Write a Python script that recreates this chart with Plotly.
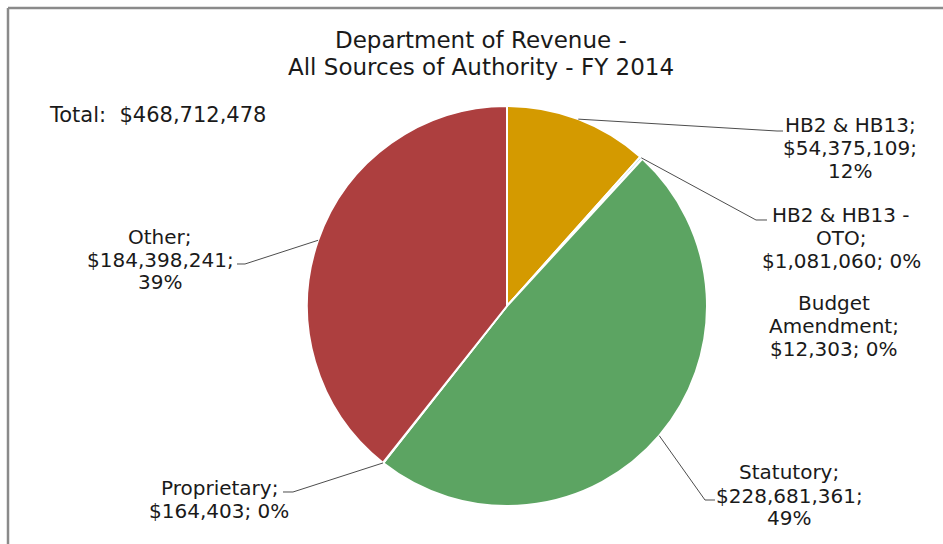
import math
import plotly.graph_objects as go

# Authority sources, in clockwise order from 12 o'clock
sources = ["HB2 & HB13", "HB2 & HB13 - OTO", "Budget Amendment", "Statutory", "Proprietary", "Other"]
amounts = [54375109, 1081060, 12303, 228681361, 164403, 184398241]
slice_colors = ["#D49A00", "#A6D8E6", "#8064A2", "#5CA462", "#4BACC6", "#AD3F3F"]

# reported total of all authority
total_amount = 468712478

# How each data label breaks over lines
name_lines = [["HB2 & HB13"], ["HB2 & HB13 -", "OTO"], ["Budget", "Amendment"],
              ["Statutory"], ["Proprietary"], ["Other"]]
value_pct_same_line = [False, True, True, False, True, False]

title_lines = ["Department of Revenue -", "All Sources of Authority - FY 2014"]

W, H = 943, 544
FONT = "DejaVu Sans, Liberation Sans, Arial, sans-serif"
TEXT = "#1a1a1a"

# pie geometry in pixels
CX, CY, R = 507, 306, 200


def px(x, y):
    return x / W, 1 - y / H


def money(v):
    return "${:,}".format(v)


def label_lines(i):
    pct = "{}%".format(round(amounts[i] / total_amount * 100))
    lines = list(name_lines[i])
    lines[-1] += ";"
    if value_pct_same_line[i]:
        lines.append(money(amounts[i]) + "; " + pct)
    else:
        lines.append(money(amounts[i]) + ";")
        lines.append(pct)
    return lines


fig = go.Figure()

x0, y1 = px(CX - R, CY - R)
x1, y0 = px(CX + R, CY + R)
fig.add_trace(go.Pie(
    labels=sources,
    values=amounts,
    sort=False,
    direction="clockwise",
    rotation=0,
    marker=dict(colors=slice_colors, line=dict(color="white", width=2)),
    textinfo="none",
    hoverinfo="label+value+percent",
    showlegend=False,
    domain=dict(x=[x0, x1], y=[y0, y1]),
))

# label placement: centre x and the y of each text line, in pixels
label_x = [850, 841, 834, 789, 219, 160]
label_line_y = [[125, 148, 171], [215, 238, 261], [303, 326, 349],
                [472, 496, 518], [488, 511], [237, 260, 282]]
leaders = {
    0: [(777, 131), (783, 131)],
    1: [(756, 220), (767, 220)],
    3: [(705, 500), (715, 500)],
    4: [(293, 492), (283, 492)],
    5: [(245, 264), (237, 264)],
}

annotations = []
shapes = []

cum = 0.0
mid_angles = []
for v in amounts:
    frac = v / sum(amounts)
    mid_angles.append((cum + frac / 2) * 2 * math.pi)
    cum += frac

for i in range(len(sources)):
    for line, ly in zip(label_lines(i), label_line_y[i]):
        ax, ay = px(label_x[i], ly)
        annotations.append(dict(
            x=ax, y=ay, xref="paper", yref="paper", xanchor="center", yanchor="middle",
            text=line, showarrow=False,
            font=dict(family=FONT, size=20, color=TEXT),
        ))
    if i in leaders:
        a = mid_angles[i]
        sx, sy = CX + R * math.sin(a), CY - R * math.cos(a)
        pts = [(sx, sy)] + leaders[i]
        path = "M " + " L ".join("{:.5f},{:.5f}".format(*px(x, y)) for x, y in pts)
        shapes.append(dict(type="path", xref="paper", yref="paper", path=path,
                           line=dict(color="#4d4d4d", width=1)))

# total
tx, ty = px(47, 115)
annotations.append(dict(
    x=tx, y=ty, xref="paper", yref="paper", xanchor="left", yanchor="middle",
    text="Total:  " + money(total_amount), showarrow=False,
    font=dict(family=FONT, size=21, color=TEXT),
))

# title, one annotation per line
for line, ly in zip(title_lines, [40, 67]):
    hx, hy = px(481, ly)
    annotations.append(dict(
        x=hx, y=hy, xref="paper", yref="paper", xanchor="center", yanchor="middle",
        text=line, showarrow=False,
        font=dict(family=FONT, size=23, color=TEXT),
    ))

# chart frame
fx0, fy0 = px(8, 8)
fx1, fy1 = px(960, 560)
shapes.append(dict(type="line", xref="paper", yref="paper", x0=fx0, y0=fy0, x1=fx1, y1=fy0,
                   line=dict(color="#8a8a8a", width=2.5)))
shapes.append(dict(type="line", xref="paper", yref="paper", x0=fx0, y0=fy0, x1=fx0, y1=fy1,
                   line=dict(color="#8a8a8a", width=2.5)))

fig.update_layout(
    width=W, height=H,
    margin=dict(l=0, r=0, t=0, b=0),
    paper_bgcolor="white",
    plot_bgcolor="white",
    annotations=annotations,
    shapes=shapes,
)

fig.write_html("out.html")
